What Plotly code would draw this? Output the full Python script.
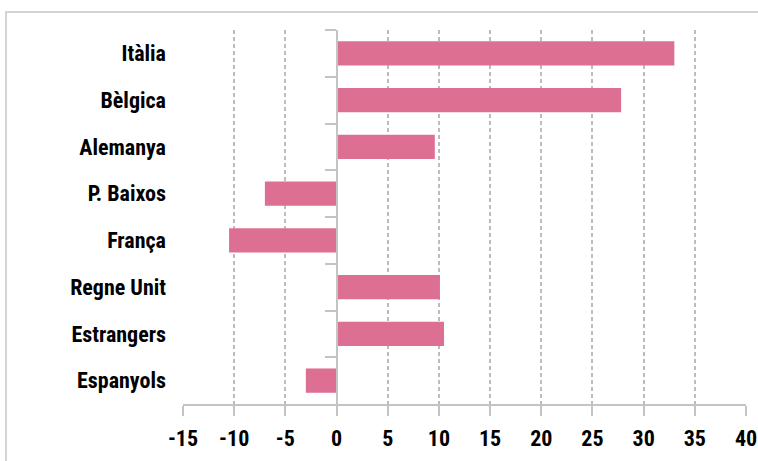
import plotly.graph_objects as go

categories = ["Itàlia", "Bèlgica", "Alemanya", "P. Baixos", "França", "Regne Unit", "Estrangers", "Espanyols"]
values = [33.0, 27.8, 9.6, -7.0, -10.5, 10.1, 10.5, -3.0]
x_ticks = [-15, -10, -5, 0, 5, 10, 15, 20, 25, 30, 35, 40]

FONT = "Roboto Condensed, Open Sans Condensed, sans-serif"
BAR = "#dd6f93"
GRID = "#bcbcbc"
AXIS = "#c4c4c4"
FS = 22

fig = go.Figure()
fig.add_trace(go.Bar(
    x=values, y=categories, orientation="h",
    marker=dict(color=BAR, line=dict(width=0)),
    width=0.52, hoverinfo="x+y", showlegend=False,
))
# invisible helper trace so the category axis at zero gets boundary ticks
fig.add_trace(go.Scatter(
    x=[0] * len(categories), y=categories, yaxis="y2",
    mode="markers", marker=dict(opacity=0), hoverinfo="skip", showlegend=False,
))

xmin, xmax = -15, 40
zero_pos = (0 - xmin) / (xmax - xmin)
n = len(categories)

fig.update_layout(
    width=758, height=461,
    margin=dict(l=183, r=12, t=30, b=57),
    paper_bgcolor="white", plot_bgcolor="white",
    font=dict(family=FONT, color="black", size=FS, weight="bold"),
    xaxis=dict(
        range=[xmin, xmax], tickmode="array", tickvals=x_ticks,
        ticktext=[str(v) for v in x_ticks], automargin=False,
        showgrid=True, gridcolor=GRID, griddash="4px,3px", gridwidth=1.5,
        zeroline=False, showline=True, linecolor=AXIS, linewidth=2,
        ticks="outside", ticklen=10, tickcolor=AXIS, tickwidth=2,
        ticklabelstandoff=4,
        tickfont=dict(family=FONT, size=FS, color="black", weight="bold"),
    ),
    yaxis=dict(
        type="category", categoryorder="array", categoryarray=categories,
        range=[n - 0.5, -0.5], showgrid=False, zeroline=False, showline=False,
        ticks="", ticklabelstandoff=16, automargin=False,
        tickfont=dict(family=FONT, size=FS, color="black", weight="bold"),
    ),
    yaxis2=dict(
        type="category", categoryorder="array", categoryarray=categories,
        range=[n - 0.5, -0.5], overlaying="y", anchor="free", position=zero_pos,
        side="left", showgrid=False, zeroline=False, showticklabels=False,
        showline=True, linecolor=AXIS, linewidth=2, automargin=False,
        ticks="outside", tickson="boundaries", ticklen=11, tickcolor=AXIS, tickwidth=2,
    ),
    shapes=[dict(
        type="rect", xref="paper", yref="paper",
        x0=-0.3144, x1=1.03, y0=-0.17, y1=1.048,
        line=dict(color="#d4d4d4", width=2), fillcolor="rgba(0,0,0,0)", layer="below",
    )],
)

fig.write_html("out.html", config={"displayModeBar": False},
               post_script="document.body.style.margin='0';")
